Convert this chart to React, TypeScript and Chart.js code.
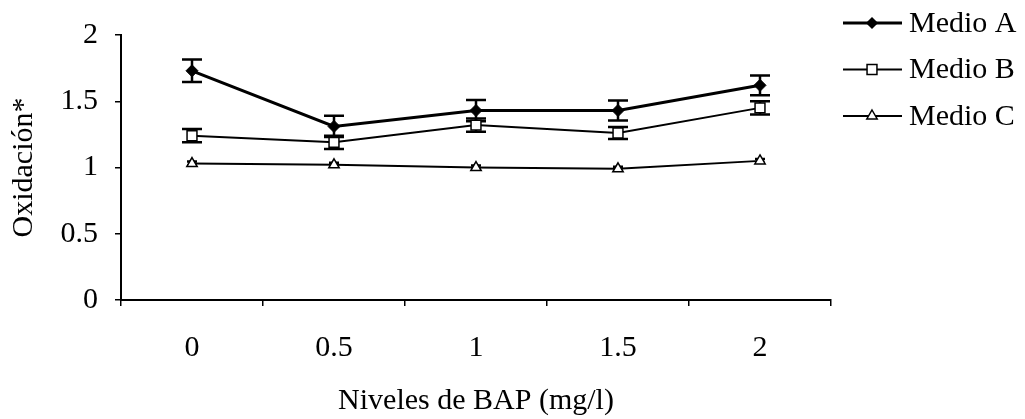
import React, { useEffect, useRef } from "react";
import { Chart, registerables } from "chart.js";

Chart.register(...registerables);

const categories = ["0", "0.5", "1", "1.5", "2"];
const seriesNames = ["Medio A", "Medio B", "Medio C"];
const medioA = [1.73, 1.31, 1.43, 1.43, 1.62];
const medioB = [1.24, 1.19, 1.32, 1.26, 1.45];
const medioC = [1.03, 1.02, 1.0, 0.99, 1.05];
const errA = [0.085, 0.08, 0.08, 0.075, 0.075];
const errB = [0.05, 0.05, 0.05, 0.045, 0.05];
const errC = [0.015, 0.015, 0.015, 0.015, 0.015];
const yTickValues = [0, 0.5, 1, 1.5, 2];
const xTitle = "Niveles de BAP (mg/l)";
const yTitle = "Oxidación*";

const FONT = "'Liberation Serif', 'Times New Roman', serif";

const errorsByDataset = [errA, errB, errC];
const capWidths = [10, 10, 5];

function drawMarker(ctx: CanvasRenderingContext2D, style: string, x: number, y: number, r: number, fill: string) {
  ctx.beginPath();
  if (style === "rectRot") {
    ctx.moveTo(x - r, y);
    ctx.lineTo(x, y - r);
    ctx.lineTo(x + r, y);
    ctx.lineTo(x, y + r);
    ctx.closePath();
  } else if (style === "rect") {
    const s = r * Math.SQRT1_2;
    ctx.rect(x - s, y - s, 2 * s, 2 * s);
  } else if (style === "triangle") {
    ctx.moveTo(x, y - r);
    ctx.lineTo(x + r * 0.866, y + r * 0.5);
    ctx.lineTo(x - r * 0.866, y + r * 0.5);
    ctx.closePath();
  }
  ctx.fillStyle = fill;
  ctx.fill();
  ctx.stroke();
}

const errorBarPlugin = {
  id: "errorBars",
  beforeDatasetsDraw(chart: any) {
    const ctx = chart.ctx;
    const yScale = chart.scales.y;
    chart.data.datasets.forEach((ds: any, i: number) => {
      const meta = chart.getDatasetMeta(i);
      const errs = errorsByDataset[i];
      const cap = capWidths[i];
      meta.data.forEach((pt: any, j: number) => {
        const v = ds.data[j];
        const e = errs[j];
        const top = yScale.getPixelForValue(v + e);
        const bot = yScale.getPixelForValue(v - e);
        ctx.save();
        ctx.strokeStyle = "#000";
        ctx.lineWidth = 2.5;
        ctx.beginPath();
        ctx.moveTo(pt.x, top);
        ctx.lineTo(pt.x, bot);
        ctx.moveTo(pt.x - cap, top);
        ctx.lineTo(pt.x + cap, top);
        ctx.moveTo(pt.x - cap, bot);
        ctx.lineTo(pt.x + cap, bot);
        ctx.stroke();
        ctx.restore();
      });
    });
  },
};

const legendPlugin = {
  id: "sideLegend",
  afterDraw(chart: any) {
    const ctx = chart.ctx;
    const x0 = 843;
    const x1 = 902;
    const mx = 872;
    const tx = 909;
    const ys = [23, 69.5, 116];
    const radii = [5, 7, 6];
    ctx.save();
    chart.data.datasets.forEach((ds: any, i: number) => {
      const y = ys[i];
      ctx.strokeStyle = "#000";
      ctx.lineWidth = ds.borderWidth;
      ctx.beginPath();
      ctx.moveTo(x0, y);
      ctx.lineTo(x1, y);
      ctx.stroke();
      ctx.lineWidth = 1.5;
      drawMarker(ctx, ds.pointStyle, mx, y, radii[i], ds.pointBackgroundColor);
      ctx.fillStyle = "#000";
      ctx.font = `30px ${FONT}`;
      ctx.textAlign = "left";
      ctx.textBaseline = "middle";
      ctx.fillText(ds.label, tx, y + 1);
    });
    ctx.restore();
  },
};

export default function App() {
  const canvasRef = useRef<HTMLCanvasElement | null>(null);

  useEffect(() => {
    if (!canvasRef.current) return;
    const chart = new Chart(canvasRef.current, {
      type: "line",
      data: {
        labels: categories,
        datasets: [
          {
            label: seriesNames[0],
            data: medioA,
            borderColor: "#000",
            borderWidth: 3,
            pointStyle: "rectRot",
            pointRadius: 6,
            pointBackgroundColor: "#000",
            pointBorderColor: "#000",
            pointBorderWidth: 1,
            tension: 0,
          },
          {
            label: seriesNames[1],
            data: medioB,
            borderColor: "#000",
            borderWidth: 2,
            pointStyle: "rect",
            pointRadius: 7,
            pointBackgroundColor: "#fff",
            pointBorderColor: "#000",
            pointBorderWidth: 1.5,
            tension: 0,
          },
          {
            label: seriesNames[2],
            data: medioC,
            borderColor: "#000",
            borderWidth: 2,
            pointStyle: "triangle",
            pointRadius: 6,
            pointBackgroundColor: "#fff",
            pointBorderColor: "#000",
            pointBorderWidth: 1.5,
            tension: 0,
          },
        ],
      },
      options: {
        responsive: true,
        maintainAspectRatio: false,
        animation: false,
        layout: { padding: { left: 0, top: 25, right: 194, bottom: 0 } },
        plugins: {
          legend: { display: false },
          tooltip: { enabled: false },
        },
        scales: {
          x: {
            type: "category",
            offset: true,
            grid: {
              display: true,
              offset: true,
              drawOnChartArea: false,
              drawTicks: true,
              tickLength: 6,
              color: "#000",
              lineWidth: 1.5,
            },
            border: { display: true, color: "#000", width: 2 },
            ticks: {
              color: "#000",
              font: { family: FONT, size: 30 },
              padding: 24,
              maxRotation: 0,
            },
            title: {
              display: true,
              text: xTitle,
              color: "#000",
              font: { family: FONT, size: 30 },
              padding: { top: 0, bottom: 0 },
            },
            afterFit(scale: any) {
              scale.height = 119;
            },
          },
          y: {
            min: 0,
            max: 2,
            afterBuildTicks(scale: any) {
              scale.ticks = yTickValues.map((v) => ({ value: v }));
            },
            grid: {
              display: true,
              drawOnChartArea: false,
              drawTicks: true,
              tickLength: 6,
              color: "#000",
              lineWidth: 1.5,
            },
            border: { display: true, color: "#000", width: 2 },
            ticks: {
              color: "#000",
              font: { family: FONT, size: 30 },
              padding: 17,
              callback: (v: any) => String(v),
            },
            title: {
              display: true,
              text: yTitle,
              color: "#000",
              font: { family: FONT, size: 30 },
              padding: { top: 6, bottom: 0 },
            },
            afterFit(scale: any) {
              scale.width = 121;
            },
          },
        },
      },
      plugins: [errorBarPlugin, legendPlugin],
    });
    return () => chart.destroy();
  }, []);

  return (
    <div style={{ position: "absolute", left: 0, top: 0, width: 1025, height: 419, background: "#fff" }}>
      <canvas ref={canvasRef} />
    </div>
  );
}
